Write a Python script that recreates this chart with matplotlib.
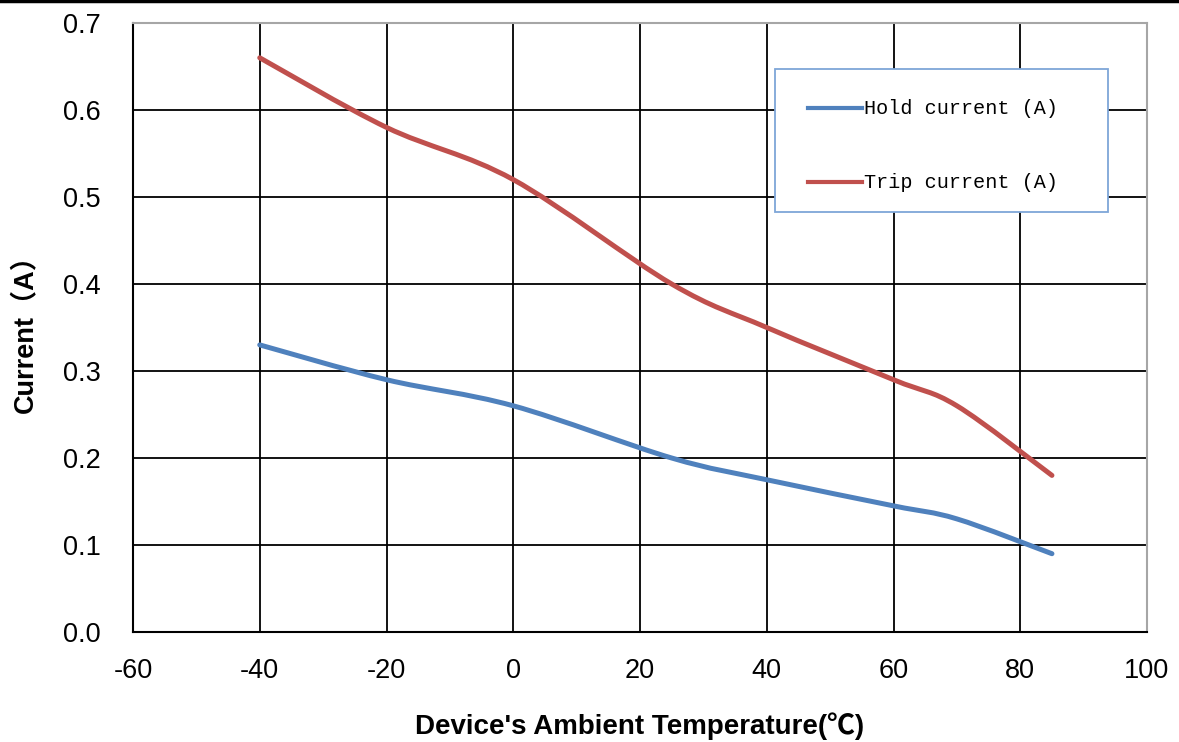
import numpy as np
import matplotlib.pyplot as plt
from matplotlib.path import Path
from matplotlib.patches import PathPatch, Rectangle
from matplotlib.lines import Line2D

temps = [-40, -20, 0, 25, 40, 60, 70, 85]
hold_current = [0.33, 0.29, 0.26, 0.20, 0.175, 0.145, 0.13, 0.09]
trip_current = [0.66, 0.58, 0.52, 0.40, 0.35, 0.29, 0.26, 0.18]
series_names = ['Hold current (A)', 'Trip current (A)']
series_colors = ['#4F81BD', '#C0504D']
x_ticks = [-60, -40, -20, 0, 20, 40, 60, 80, 100]
y_ticks = [0.0, 0.1, 0.2, 0.3, 0.4, 0.5, 0.6, 0.7]

W, H = 1179, 742


def fx(px):
    return px / W


def fy(py):
    return 1 - py / H


def smooth_path(xs, ys):
    # Excel-style smoothed line: Catmull-Rom segments as cubic Bezier curves
    p = np.column_stack([xs, ys]).astype(float)
    n = len(p)
    verts = [p[0]]
    codes = [Path.MOVETO]
    for i in range(n - 1):
        p0 = p[i - 1] if i > 0 else p[i]
        p3 = p[i + 2] if i + 2 < n else p[i + 1]
        c1 = p[i] + (p[i + 1] - p0) / 6
        c2 = p[i + 1] - (p3 - p[i]) / 6
        verts += [c1, c2, p[i + 1]]
        codes += [Path.CURVE4] * 3
    return Path(verts, codes)


fig = plt.figure(figsize=(W / 100, H / 100), dpi=100)
ax = fig.add_axes([fx(133), fy(632), fx(1147) - fx(133), fy(23) - fy(632)])

ax.set_xlim(-60, 100)
ax.set_ylim(0, 0.7)
ax.set_xticks(x_ticks)
ax.set_yticks(y_ticks)
ax.set_xticklabels([str(t) for t in x_ticks])
ax.set_yticklabels([f'{t:.1f}' for t in y_ticks])
ax.tick_params(length=0, labelsize=19.5)
ax.tick_params(axis='y', pad=23)
ax.tick_params(axis='x', pad=19)
for lab in ax.get_xticklabels() + ax.get_yticklabels():
    lab.set_fontfamily('Liberation Sans')

ax.grid(True, color='black', linewidth=1.3)
ax.set_axisbelow(True)
ax.spines['left'].set_color('black')
ax.spines['bottom'].set_color('black')
ax.spines['top'].set_color('#A6A6A6')
ax.spines['right'].set_color('#A6A6A6')
for s in ax.spines.values():
    s.set_linewidth(1.5)

for ys, c in zip([hold_current, trip_current], series_colors):
    ax.add_patch(PathPatch(smooth_path(temps, ys), facecolor='none',
                           edgecolor=c, linewidth=3.6, capstyle='round', zorder=3))

ax.set_xlabel("Device's Ambient Temperature(℃)", fontsize=20, fontweight='bold',
              family=['Liberation Sans', 'Noto Sans CJK SC'], labelpad=20)
ax.set_ylabel('Current（A）', fontsize=19.5, fontweight='bold',
              family=['Liberation Sans', 'Noto Sans CJK SC'], labelpad=18)

# legend box
fig.patches.append(Rectangle((fx(775), fy(212)), fx(1108) - fx(775), fy(69) - fy(212),
                             transform=fig.transFigure, facecolor='white',
                             edgecolor='#7EA6D8', linewidth=1.3, zorder=5))
for i, (name, c) in enumerate(zip(series_names, series_colors)):
    yy = fy(108 + 74 * i)
    fig.lines.append(Line2D([fx(808), fx(862)], [yy, yy], transform=fig.transFigure,
                            color=c, linewidth=3.0, zorder=6))
    fig.text(fx(864), yy, name, fontsize=14.5, family='Liberation Mono',
             va='center', ha='left', zorder=6)

# black rule along the top edge
fig.lines.append(Line2D([0, 1], [fy(1), fy(1)], transform=fig.transFigure,
                        color='black', linewidth=2.5))

fig.savefig('out.png', dpi=100)
